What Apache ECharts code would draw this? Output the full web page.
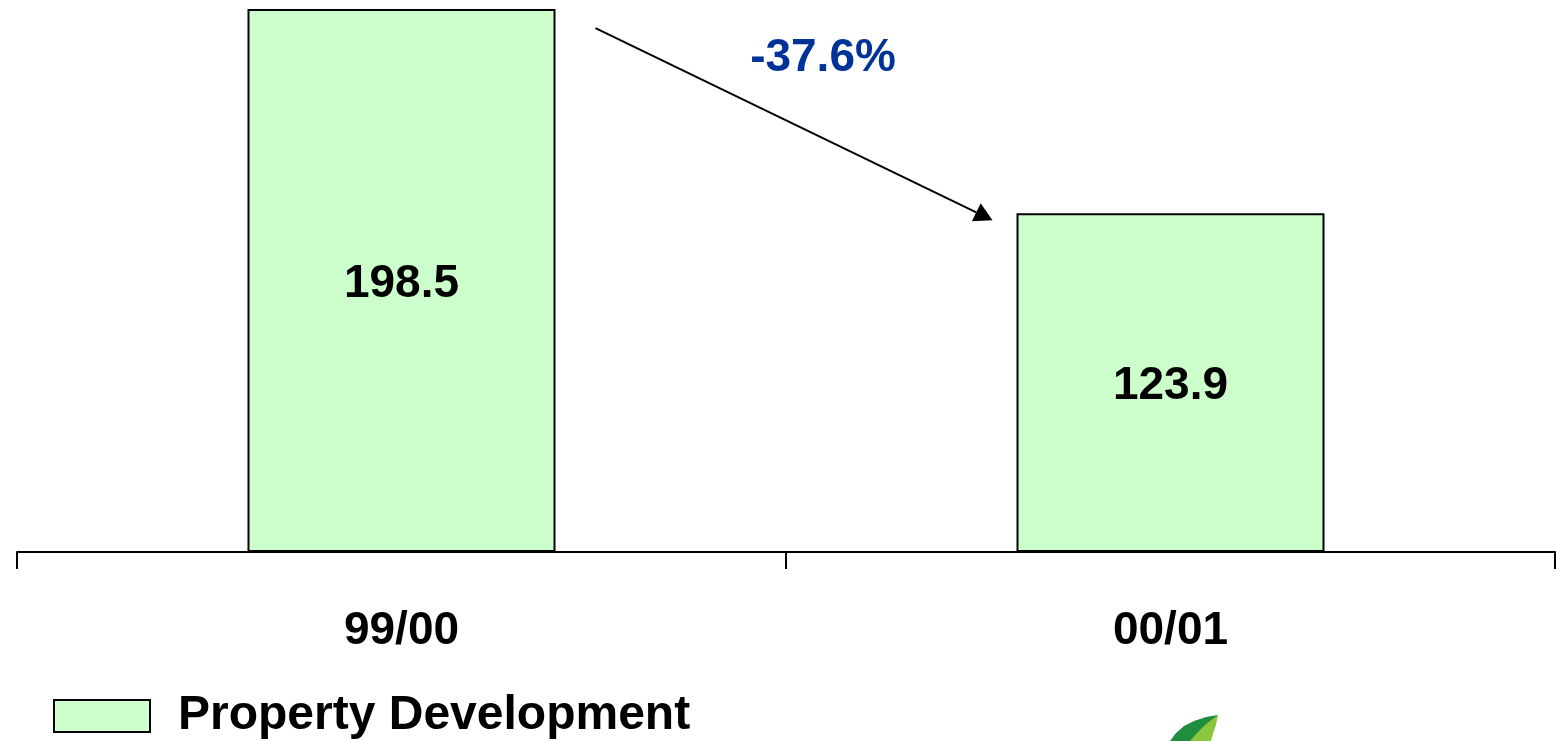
<!DOCTYPE html>
<html>
<head>
<meta charset="utf-8">
<script src="https://cdn.jsdelivr.net/npm/echarts@6/dist/echarts.min.js"></script>
<style>
  html, body { margin: 0; padding: 0; background: #fff; }
  #chart { width: 1556px; height: 741px; }
</style>
</head>
<body>
<div id="chart"></div>
<script>
// Turnover by financial year, Property Development segment
const categories = ['99/00', '00/01'];
const seriesName = 'Property Development';
const values = [198.5, 123.9];
const changeLabel = '-37.6%';

const FONT = '"Liberation Sans", Arial, Helvetica, sans-serif';

const chart = echarts.init(document.getElementById('chart'), null, { renderer: 'canvas' });

chart.setOption({
  animation: false,
  backgroundColor: '#ffffff',
  grid: { left: 17, right: 1, top: 5, bottom: 189, containLabel: false },
  legend: {
    left: 48,
    top: 687,
    itemWidth: 96,
    itemHeight: 32,
    itemGap: 20,
    icon: 'rect',
    data: [seriesName],
    textStyle: { fontFamily: FONT, fontWeight: 'bold', fontSize: 48, color: '#000', padding: [18, 0, 0, 23] }
  },
  xAxis: {
    type: 'category',
    data: categories,
    axisLine: { show: true, lineStyle: { color: '#000', width: 2 } },
    axisTick: { show: true, length: 17, lineStyle: { color: '#000', width: 2 } },
    axisLabel: {
      margin: 56,
      fontFamily: FONT,
      fontWeight: 'bold',
      fontSize: 46,
      color: '#000'
    }
  },
  yAxis: {
    type: 'value',
    min: 0,
    max: 200,
    show: false,
    splitLine: { show: false }
  },
  series: [{
    name: seriesName,
    type: 'bar',
    data: values,
    barWidth: 308,
    itemStyle: { color: '#CCFFCC', borderColor: '#000', borderWidth: 2 },
    label: {
      show: true,
      position: 'inside',
      offset: [0, 4],
      fontFamily: FONT,
      fontWeight: 'bold',
      fontSize: 46,
      color: '#000',
      formatter: p => p.value.toFixed(1)
    }
  }]
});

// Arrow annotation from the first bar down to the second, with the change label
function drawAnnotations() {
  const p0 = chart.convertToPixel({ seriesIndex: 0 }, [0, values[0]]);
  const p1 = chart.convertToPixel({ seriesIndex: 0 }, [1, values[1]]);
  const half = 154;
  const x0 = p0[0] + half + 40, y0 = p0[1] + 19;
  const x1 = p1[0] - half - 24, y1 = p1[1] + 7;
  const ang = Math.atan2(y1 - y0, x1 - x0);
  const headLen = 18, headW = 10;
  const bx = x1 - headLen * Math.cos(ang), by = y1 - headLen * Math.sin(ang);
  const nx = -Math.sin(ang), ny = Math.cos(ang);

  // leaf logo peeking in at the bottom edge
  const lx = 1170, ly = 741;
  const darkLeaf = [
    [lx, ly], [lx + 6, ly - 8], [lx + 14, ly - 15], [lx + 24, ly - 20],
    [lx + 36, ly - 24], [lx + 48, ly - 26], [lx + 42, ly - 18], [lx + 38, ly - 9], [lx + 35, ly]
  ];
  const lightLeaf = [
    [lx + 20, ly], [lx + 28, ly - 9], [lx + 36, ly - 17], [lx + 48, ly - 26],
    [lx + 46, ly - 16], [lx + 43, ly - 7], [lx + 41, ly]
  ];

  chart.setOption({
    graphic: [
      {
        type: 'line',
        shape: { x1: x0, y1: y0, x2: bx, y2: by },
        style: { stroke: '#000', lineWidth: 2 }
      },
      {
        type: 'polygon',
        shape: { points: [[x1, y1], [bx + nx * headW, by + ny * headW], [bx - nx * headW, by - ny * headW]] },
        style: { fill: '#000' }
      },
      {
        type: 'text',
        x: 823,
        y: 58,
        style: {
          text: changeLabel,
          fontFamily: FONT,
          fontWeight: 'bold',
          fontSize: 46,
          fill: '#003399',
          textAlign: 'center',
          textVerticalAlign: 'middle'
        }
      },
      {
        type: 'polygon',
        shape: { points: darkLeaf },
        style: { fill: '#1f8f3f' }
      },
      {
        type: 'polygon',
        shape: { points: lightLeaf },
        style: { fill: '#8cc63f' }
      }
    ]
  });
}
drawAnnotations();
</script>
</body>
</html>
